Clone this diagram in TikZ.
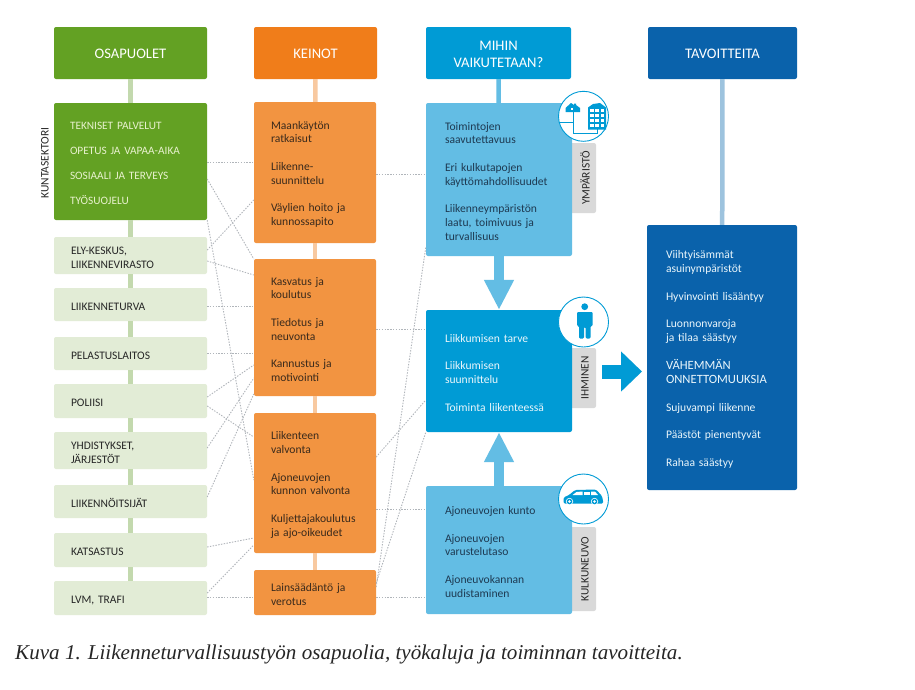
\documentclass[tikz,border=0pt]{standalone}
\usepackage{fontspec}
\setmainfont{Carlito}
\newfontfamily\capfont{Liberation Serif}
\usetikzlibrary{arrows.meta}
\definecolor{cgreen}{HTML}{63A123}
\definecolor{clight}{HTML}{E2ECD6}
\definecolor{cgline}{HTML}{C3D9AE}
\definecolor{corh}{HTML}{F07D1A}
\definecolor{corb}{HTML}{F29441}
\definecolor{corl}{HTML}{F8C9A0}
\definecolor{cblue}{HTML}{009BD5}
\definecolor{csky}{HTML}{63BDE4}
\definecolor{cdark}{HTML}{0A62AB}
\definecolor{cdline}{HTML}{9DC3DE}
\definecolor{cgrey}{HTML}{D9D9D9}
\definecolor{ctext}{HTML}{1E3A52}
\definecolor{cotext}{HTML}{3A2A1C}
\definecolor{cpale}{HTML}{E8F1CE}
\definecolor{cwhite}{HTML}{EAF6FB}
\definecolor{cdot}{HTML}{B0B5BA}
\tikzset{
  x=1pt,y=-1pt,
  boxbase/.style={rounded corners=2pt,inner sep=0pt,align=left,font=\fontsize{11.6}{13.8}\selectfont},
  headbox/.style={boxbase,align=center,text=white,font=\fontsize{14.6}{16.5}\selectfont},
  greenbox/.style={boxbase,fill=cgreen,text=cpale,font=\fontsize{11.3}{13.8}\selectfont},
  lightbox/.style={boxbase,fill=clight,text=black!85,font=\fontsize{11.5}{13.8}\selectfont},
  orbox/.style={boxbase,fill=corb,text=cotext},
  skybox/.style={boxbase,fill=csky,text=ctext},
  bluebox/.style={boxbase,fill=cblue,text=cwhite},
  darkbox/.style={boxbase,fill=cdark,text=cwhite},
  tabbox/.style={rounded corners=2pt,fill=cgrey,inner sep=0pt},
  tablabel/.style={rotate=90,inner sep=0pt,text=black!85,font=\fontsize{11.4}{12}\selectfont},
  dotline/.style={cdot,line width=0.9pt,dash pattern=on 1.4pt off 1.4pt},
  stem/.style={line width=4.5pt},
  bigarrow/.style={line width=10pt,csky,-{Triangle[width=28pt,length=30pt]},shorten >=0pt},
  iconring/.style={circle,draw=cblue,line width=0.9pt,fill=white,minimum size=50pt,inner sep=0pt},
}
% name, x1, y1, x2, y2, left pad, style, text
\newcommand{\bx}[8]{%
  \pgfmathsetmacro{\bxw}{#4-#2}\pgfmathsetmacro{\bxh}{#5-#3}%
  \pgfmathsetmacro{\bxt}{#4-#2-2*#6}%
  \node[#7,minimum width=\bxw pt,minimum height=\bxh pt,text width=\bxt pt] (#1)
    at ({(#2+#4)/2},{(#3+#5)/2}) {\rule{0pt}{11.8pt}#8};}
\begin{document}
\begin{tikzpicture}
\useasboundingbox (0,0) rectangle (915,689);
\fill[white] (0,0) rectangle (915,689);
% nodes
\bx{h1}{54}{27}{207}{79}{4}{headbox,fill=cgreen}{OSAPUOLET}
\bx{h2}{254}{27}{377}{79}{4}{headbox,fill=corh}{KEINOT}
\bx{h3}{426}{27}{571}{79}{4}{headbox,fill=cblue}{MIHIN\\VAIKUTETAAN?}
\bx{h4}{648}{27}{797}{79}{4}{headbox,fill=cdark}{TAVOITTEITA}
\bx{g1}{54}{103}{207}{220}{16}{greenbox}{TEKNISET PALVELUT\\[11.2pt]OPETUS JA VAPAA-AIKA\\[11.2pt]SOSIAALI JA TERVEYS\\[11.2pt]TYÖSUOJELU}
\bx{g2}{54}{237}{207}{274}{17}{lightbox}{ELY-KESKUS,\\LIIKENNEVIRASTO}
\bx{g3}{54}{288}{207}{321}{17}{lightbox}{LIIKENNETURVA}
\bx{g4}{54}{337}{207}{370}{17}{lightbox}{PELASTUSLAITOS}
\bx{g5}{54}{384}{207}{418}{17}{lightbox}{POLIISI}
\bx{g6}{54}{432}{207}{469}{17}{lightbox}{YHDISTYKSET,\\JÄRJESTÖT}
\bx{g7}{54}{485}{207}{518}{17}{lightbox}{LIIKENNÖITSIJÄT}
\bx{g8}{54}{533}{207}{567}{17}{lightbox}{KATSASTUS}
\bx{g9}{54}{581}{207}{615}{17}{lightbox}{LVM, TRAFI}
\node[rotate=90,inner sep=0pt,text=black!85,font=\fontsize{11.5}{12}\selectfont] (ks) at (45,163) {KUNTASEKTORI};
\bx{o1}{254}{102}{376}{243}{17}{orbox}{Maankäytön\\ratkaisut\\[13.8pt]Liikenne-\\suunnittelu\\[13.8pt]Väylien hoito ja\\kunnossapito}
\bx{o2}{254}{259}{376}{396}{17}{orbox}{Kasvatus ja\\koulutus\\[13.8pt]Tiedotus ja\\neuvonta\\[13.8pt]Kannustus ja\\motivointi}
\bx{o3}{254}{413}{376}{553}{17}{orbox}{Liikenteen\\valvonta\\[13.8pt]Ajoneuvojen\\kunnon valvonta\\[13.8pt]Kuljettajakoulutus\\ja ajo-oikeudet}
\bx{o4}{254}{570}{376}{615}{17}{orbox}{Lainsäädäntö ja\\verotus}
% tabs
\bx{t1}{566}{143}{596}{213}{2}{tabbox}{}
\bx{t2}{566}{348}{596}{408}{2}{tabbox}{}
\bx{t3}{566}{527}{596}{611}{2}{tabbox}{}
\node[tablabel] (t1l) at (585,178) {YMPÄRISTÖ};
\node[tablabel] (t2l) at (585,378) {IHMINEN};
\node[tablabel] (t3l) at (585,569) {KULKUNEUVO};
\bx{b1}{426}{103}{572}{256}{19}{skybox}{Toimintojen\\saavutettavuus\\[13.8pt]Eri kulkutapojen\\käyttömahdollisuudet\\[13.8pt]Liikenneympäristön\\laatu, toimivuus ja\\turvallisuus}
\bx{b2}{426}{310}{572}{432}{19}{bluebox}{Liikkumisen tarve\\[13.8pt]Liikkumisen\\suunnittelu\\[13.8pt]Toiminta liikenteessä}
\bx{b3}{426}{486}{572}{614}{19}{skybox}{Ajoneuvojen kunto\\[13.8pt]Ajoneuvojen\\varustelutaso\\[13.8pt]Ajoneuvokannan\\uudistaminen}
\bx{d1}{647}{225}{797}{490}{19}{darkbox}{Viihtyisämmät\\asuinympäristöt\\[13.8pt]Hyvinvointi lisääntyy\\[13.8pt]Luonnonvaroja\\ja tilaa säästyy\\[13.8pt]{\fontsize{12.6}{14.5}\selectfont VÄHEMMÄN\\ONNETTOMUUKSIA}\\[13.8pt]Sujuvampi liikenne\\[13.8pt]Päästöt pienentyvät\\[13.8pt]Rahaa säästyy}
% stems
\begin{scope}[stem]
\draw[cgline] (h1)--(g1);\draw[cgline] (g1)--(g2);\draw[cgline] (g2)--(g3);\draw[cgline] (g3)--(g4);
\draw[cgline] (g4)--(g5);\draw[cgline] (g5)--(g6);\draw[cgline] (g6)--(g7);\draw[cgline] (g7)--(g8);\draw[cgline] (g8)--(g9);
\draw[corl] (h2)--(o1);\draw[corl] (o1)--(o2);\draw[corl] (o2)--(o3);\draw[corl] (o3)--(o4);
\draw[csky] (h3)--(b1);
\draw[cdline] (h4)--(d1);
\end{scope}
% dotted, left
\draw[dotline] (g1.east|-0,162)--(o1.west|-0,162);
\draw[dotline] (g1.east|-0,179)--(o2.west|-0,259);
\draw[dotline] (g1.south east)--(o3.west|-0,480);
\draw[dotline] (g2.east|-0,250)--(o1.west|-0,200);
\draw[dotline] (g2.east|-0,261)--(o2.west|-0,275);
\draw[dotline] (g3.east|-0,306)--(o2.west|-0,306);
\draw[dotline] (g4.east|-0,353)--(o2.west|-0,353);
\draw[dotline] (g5.east|-0,397)--(o2.west|-0,365);
\draw[dotline] (g5.east|-0,406)--(o3.west|-0,437);
\draw[dotline] (g6.east|-0,448)--(o2.west|-0,378);
\draw[dotline] (g7.east|-0,497)--(o2.west|-0,394);
\draw[dotline] (g8.east|-0,547)--(o3.west|-0,538);
\draw[dotline] (g9.east|-0,593)--(o3.west|-0,545);
\draw[dotline] (g9.east|-0,597)--(o4.west|-0,597);
% dotted, right
\draw[dotline] (o1.east|-0,174)--(b1.west|-0,174);
\draw[dotline] (o2.east|-0,329)--(b2.west|-0,329);
\draw[dotline] (o3.east|-0,509)--(b3.west|-0,509);
\draw[dotline] (o4.east|-0,597)--(b3.west|-0,597);
\draw[dotline] (o3.east|-0,457)--(b2.west|-0,400);
\draw[dotline] (o4.east|-0,587)--(b1.west|-0,247);
\draw[dotline] (o4.east|-0,583)--(b2.south west);
% big arrows
\draw[bigarrow] (b1)--(b2);
\draw[bigarrow] (b3)--(b2);
\coordinate (ra) at (602,371.5);
\coordinate (rb) at (642,371.5);
\draw[line width=14pt,cblue,-{Triangle[width=39pt,length=21pt]}] (ra)--(rb);
% icon rings
\node[iconring] (c1) at (583.5,116.3) {};
\node[iconring] (c2) at (583.5,322) {};
\node[iconring] (c3) at (583.5,499) {};
% environment icon
\draw[cblue,line width=0.8pt] (558.5,122.5)--(573,122.5) (573,110)--(573,133)--(597,133)--(597,128);
\fill[cblue] (565.5,108)--(571,103)--(574,105)--(574,103.5)--(576,103.5)--(576,105)--(580,108)--(580,112)--(565.5,112)--cycle;
\fill[white] (570.5,108) rectangle (572.5,110);
\fill[cblue] (588,107.5)--(593,104)--(600,103)--(606,107.5)--(606,129.5)--(588,129.5)--cycle;
\foreach \i in {0,1,2}\foreach \j in {0,1,2,3}{
  \fill[white] ({590+\i*5.3},{108.5+\j*5}) rectangle ++(3.6,3.6);}
% person icon
\fill[cblue] (584.7,306.7) circle (3.4);
\fill[cblue,rounded corners=1.2pt] (577,312)--(592.7,312)--(592.7,326)--(590.5,326)--(590.5,338.5)--(585.6,338.5)--(585.6,327)--(584,327)--(584,338.5)--(579,338.5)--(579,326)--(577,326)--cycle;
% car icon
\fill[cblue,rounded corners=1.5pt] (563.5,503.5)--(563.5,497.5)--(569,495)--(575,490)--(596,489.5)--(602,496)--(603.5,503.5)--cycle;
\fill[white] (576.5,492)--(582.5,491.5)--(582.5,495)--(572.5,495)--cycle;
\fill[white] (584,491.5)--(589.5,491.5)--(589.5,495)--(584,495)--cycle;
\fill[white] (591,491.5)--(595,491.5)--(598,495)--(591,495)--cycle;
\foreach \xx in {569.5,594.5}{\fill[white] (\xx,501.5) circle (3.6);\fill[cblue] (\xx,501.5) circle (2.8);\fill[white] (\xx,501.5) circle (1.4);}
% caption
\node[anchor=base west,inner sep=0pt,text=black!85,font=\capfont\itshape\fontsize{21.1}{23}\selectfont] (cap) at (15,659) {Kuva 1. Liikenneturvallisuustyön osapuolia, työkaluja ja toiminnan tavoitteita.};
\end{tikzpicture}
\end{document}
